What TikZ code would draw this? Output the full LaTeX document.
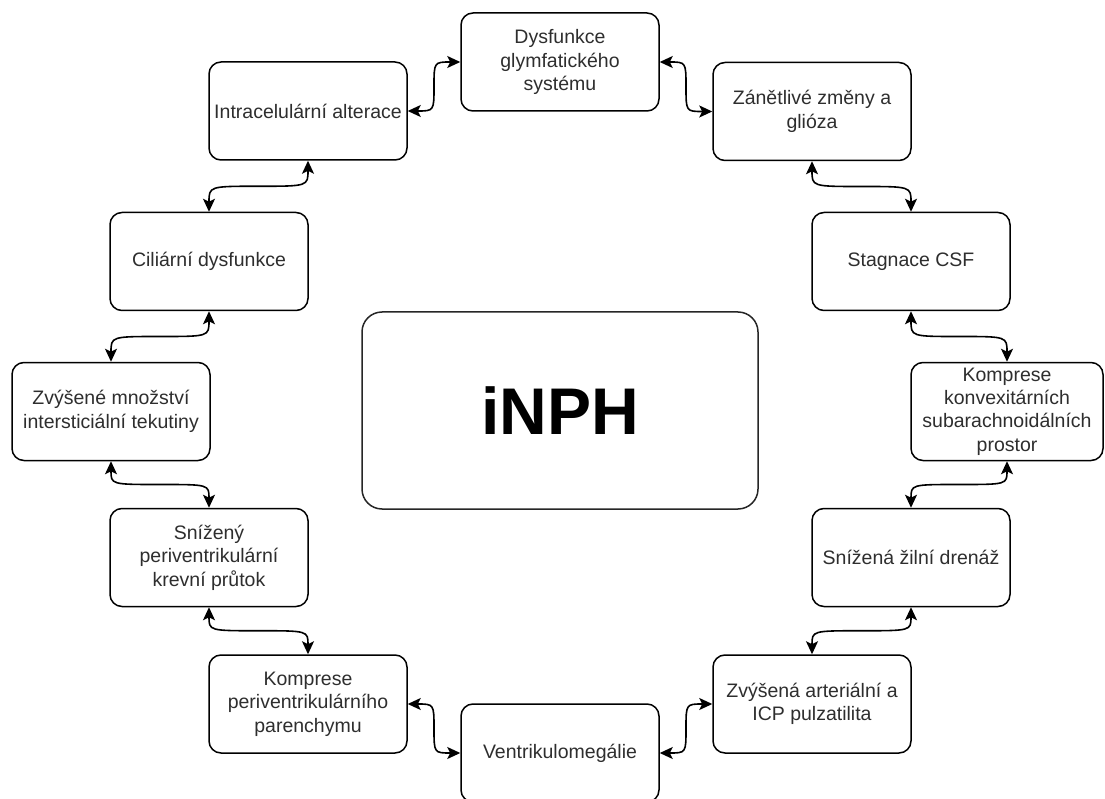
\documentclass[tikz,border=0pt]{standalone}
\usepackage{fontspec}
\setmainfont{Liberation Sans}
\usetikzlibrary{arrows.meta,calc}
\tikzset{
  box/.style={draw=black, line width=1.5pt, rounded corners=12pt, fill=white,
    minimum width=198pt, minimum height=98pt, inner sep=0pt, align=center,
    text=black!82, font=\fontsize{19.5}{23.4}\selectfont},
  bigbox/.style={draw=black!85, line width=1.5pt, rounded corners=20pt,
    minimum width=396pt, minimum height=197pt, inner sep=0pt,
    font=\fontsize{66}{70}\selectfont\bfseries},
  tip/.tip={Stealth[length=13pt,width=12pt,inset=3pt]},
  conn/.style={line width=1.6pt, tip-tip},
  vcurve/.style={to path={let \p1=(\tikztostart), \p2=(\tikztotarget) in
     .. controls (\x1,{0.5*(\y1+\y2)}) .. ({0.5*(\x1+\x2)},{0.5*(\y1+\y2)})
     .. controls (\x2,{0.5*(\y1+\y2)}) .. (\tikztotarget)}},
  hcurve/.style={to path={let \p1=(\tikztostart), \p2=(\tikztotarget) in
     .. controls ({0.5*(\x1+\x2)},\y1) .. ({0.5*(\x1+\x2)},{0.5*(\y1+\y2)})
     .. controls ({0.5*(\x1+\x2)},\y2) .. (\tikztotarget)}},
}
\begin{document}
\begin{tikzpicture}[x=1pt,y=-1pt]
\clip (0,0) rectangle (1105,799);
\fill[white] (0,0) rectangle (1105,799);

\node[bigbox] (c) at (560,410.5) {iNPH};

\node[box] (b1) at (560,62) {Dysfunkce\\glymfatického\\systému};
\node[box] (b2) at (812,111.5) {Zánětlivé změny a\\glióza};
\node[box] (b3) at (911,261.5) {Stagnace CSF};
\node[box, minimum width=192pt] (b4) at (1007,411.5) {Komprese\\konvexitárních\\subarachnoidálních\\prostor};
\node[box] (b5) at (911,557.5) {Snížená žilní drenáž};
\node[box] (b6) at (812,704) {Zvýšená arteriální a\\ICP pulzatilita};
\node[box] (b7) at (560,753) {Ventrikulomegálie};
\node[box] (b8) at (308,704) {Komprese\\periventrikulárního\\parenchymu};
\node[box] (b9) at (209,557.5) {Snížený\\periventrikulární\\krevní průtok};
\node[box] (b10) at (111,411.5) {Zvýšené množství\\intersticiální tekutiny};
\node[box] (b11) at (209,261.5) {Ciliární dysfunkce};
\node[box] (b12) at (308,111) {Intracelulární alterace};

\draw[conn] (b12.east) to[hcurve] (b1.west);
\draw[conn] (b1.east) to[hcurve] (b2.west);
\draw[conn] (b2.south) to[vcurve] (b3.north);
\draw[conn] (b3.south) to[vcurve] (b4.north);
\draw[conn] (b4.south) to[vcurve] (b5.north);
\draw[conn] (b5.south) to[vcurve] (b6.north);
\draw[conn] (b6.west) to[hcurve] (b7.east);
\draw[conn] (b7.west) to[hcurve] (b8.east);
\draw[conn] (b8.north) to[vcurve] (b9.south);
\draw[conn] (b9.north) to[vcurve] (b10.south);
\draw[conn] (b10.north) to[vcurve] (b11.south);
\draw[conn] (b11.north) to[vcurve] (b12.south);
\end{tikzpicture}
\end{document}
